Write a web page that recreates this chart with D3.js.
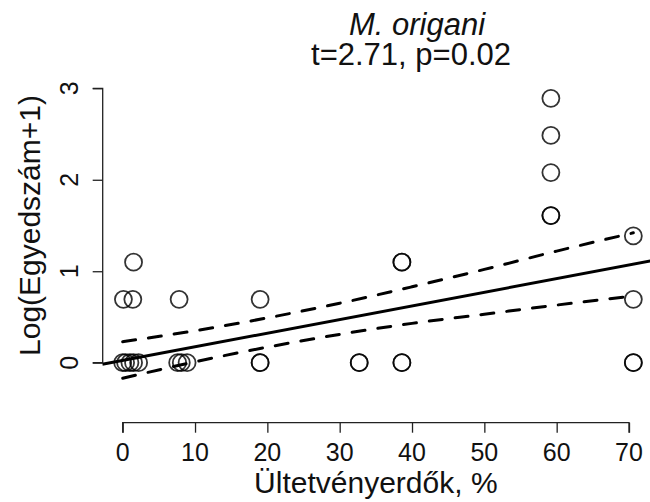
<!DOCTYPE html>
<html>
<head>
<meta charset="utf-8">
<script src="https://cdn.jsdelivr.net/npm/d3@7"></script>
<style>
  html, body { margin: 0; padding: 0; background: #fff; }
  svg { display: block; font-family: "Liberation Sans", Arial, Helvetica, sans-serif; }
</style>
</head>
<body>
<svg id="chart" width="650" height="502"></svg>
<script>
// ---- data ----
const titleSpecies = "M. origani";
const titleStats = "t=2.71, p=0.02";
const xLabel = "Ültetvényerdők, %";
const yLabel = "Log(Egyedszám+1)";

const xTicks = [0, 10, 20, 30, 40, 50, 60, 70];
const yTicks = [0, 1, 2, 3];

// observations: x = plantation forest %, y = log(count+1)
const obsX = [0, 0.4, 1.0, 1.5, 2.2, 7.6, 8.1, 8.9, 19.0, 19.0, 32.7, 32.7, 38.6, 38.6, 70.6, 70.6,
              0.1, 1.4, 7.8, 19.0, 70.6,
              1.5, 38.6, 38.6,
              70.6,
              59.2, 59.2,
              59.2, 59.2, 59.2];
const obsY = [0, 0, 0, 0, 0, 0, 0, 0, 0, 0, 0, 0, 0, 0, 0, 0,
              0.693, 0.693, 0.693, 0.693, 0.693,
              1.099, 1.099, 1.099,
              1.386,
              1.609, 1.609,
              2.079, 2.485, 2.890];

// fitted regression line
const fitIntercept = 0.025;
const fitSlope = 0.0149;

// confidence band
const bandX     = [0,     10,   20,   30,   40,   50,   60,   70.6];
const bandUpper = [0.23,  0.35, 0.49, 0.65, 0.83, 1.02, 1.22, 1.42];
const bandLower = [-0.17, 0.01, 0.17, 0.31, 0.43, 0.53, 0.63, 0.73];

// ---- drawing ----
const svg = d3.select("#chart");
const x = d3.scaleLinear().domain([0, 70]).range([122.7, 629]);
const y = d3.scaleLinear().domain([0, 3]).range([362.7, 88.3]);

// plot region (x padded 4% as in R)
const px0 = x(-2.82), px1 = x(73.4), py0 = y(3.2), py1 = y(-0.5);

svg.append("clipPath").attr("id", "plotclip")
  .append("rect").attr("x", px0).attr("y", py0).attr("width", px1 - px0).attr("height", py1 - py0);

// axes
const yAxisX = 102.7;
const xAxisY = 422.7;

const gy = svg.append("g").attr("transform", `translate(${yAxisX},0)`)
  .call(d3.axisLeft(y).tickValues(yTicks).tickSize(10).tickFormat(""));
gy.select(".domain").attr("d", `M-10,${y(3)}H0V${y(0)}H-10`);
gy.selectAll("path, line").attr("stroke", "#222").attr("stroke-width", 1.3);

svg.append("g").selectAll("text").data(yTicks).join("text")
  .attr("transform", d => `translate(78,${y(d)}) rotate(-90)`)
  .attr("text-anchor", "middle")
  .attr("font-size", 25)
  .attr("fill", "#111")
  .text(d => d);

const gx = svg.append("g").attr("transform", `translate(0,${xAxisY})`)
  .call(d3.axisBottom(x).tickValues(xTicks).tickSize(10).tickFormat(""));
gx.select(".domain").attr("d", `M${x(0)},10V0H${x(70)}V10`);
gx.selectAll("path, line").attr("stroke", "#222").attr("stroke-width", 1.3);

svg.append("g").selectAll("text").data(xTicks).join("text")
  .attr("x", d => x(d))
  .attr("y", 461)
  .attr("text-anchor", "middle")
  .attr("font-size", 25)
  .attr("fill", "#111")
  .text(d => d);

// axis titles
svg.append("text")
  .attr("x", x(35))
  .attr("y", 493)
  .attr("text-anchor", "middle")
  .attr("font-size", 30)
  .attr("fill", "#111")
  .text(xLabel);

svg.append("text")
  .attr("transform", `translate(40,${(y(0) + y(3)) / 2}) rotate(-90)`)
  .attr("text-anchor", "middle")
  .attr("font-size", 30)
  .attr("fill", "#111")
  .text(yLabel);

// titles
svg.append("text")
  .attr("x", 417).attr("y", 35)
  .attr("text-anchor", "middle")
  .attr("font-size", 31)
  .attr("font-style", "italic")
  .attr("fill", "#111")
  .text(titleSpecies);
svg.append("text")
  .attr("x", 411).attr("y", 65)
  .attr("text-anchor", "middle")
  .attr("font-size", 31)
  .attr("fill", "#111")
  .text(titleStats);

// points
svg.append("g").selectAll("circle").data(obsX.map((d, i) => [d, obsY[i]])).join("circle")
  .attr("cx", d => x(d[0]))
  .attr("cy", d => y(d[1]))
  .attr("r", 8.5)
  .attr("fill", "none")
  .attr("stroke", "#000")
  .attr("stroke-opacity", 0.8)
  .attr("stroke-width", 1.8);

// regression line
const plot = svg.append("g").attr("clip-path", "url(#plotclip)");
const fitXs = [x.invert(px0), x.invert(px1)];
plot.append("path")
  .datum(fitXs.map(v => [v, fitIntercept + fitSlope * v]))
  .attr("d", d3.line().x(d => x(d[0])).y(d => y(d[1])))
  .attr("fill", "none")
  .attr("stroke", "#000")
  .attr("stroke-width", 3);

// confidence band
const bandLine = d3.line().x(d => x(d[0])).y(d => y(d[1])).curve(d3.curveMonotoneX);
[bandUpper, bandLower].forEach(arr => {
  plot.append("path")
    .datum(bandX.map((v, i) => [v, arr[i]]))
    .attr("d", bandLine)
    .attr("fill", "none")
    .attr("stroke", "#000")
    .attr("stroke-width", 3)
    .attr("stroke-dasharray", "13 13")
    .attr("stroke-linecap", "round");
});
</script>
</body>
</html>
